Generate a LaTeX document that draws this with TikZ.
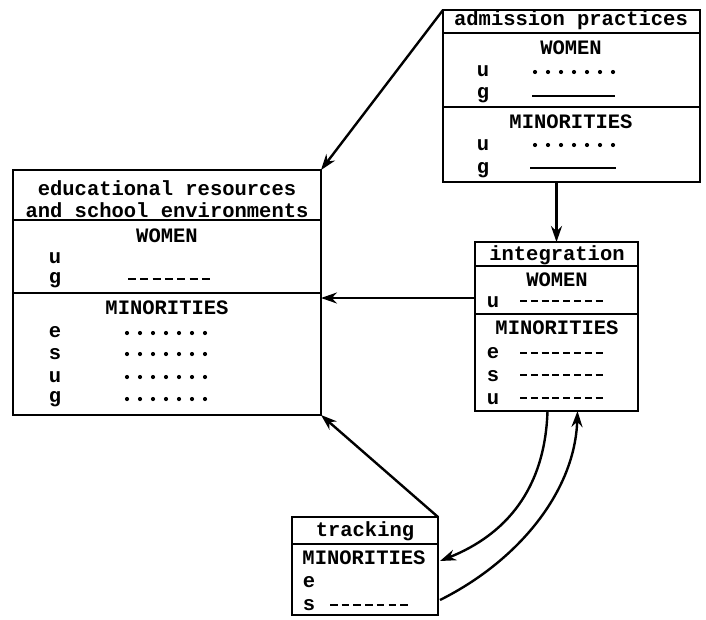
\documentclass[tikz,border=0pt]{standalone}
\usepackage{fontspec}
\setmainfont{Liberation Mono}
\usetikzlibrary{arrows.meta,calc}
\begin{document}
\begin{tikzpicture}[x=1pt,y=-1pt,
  box/.style={draw, line width=1.5pt, inner sep=0pt, outer sep=0pt, rectangle},
  txt/.style={font=\fontsize{20.5}{23}\selectfont\bfseries, inner sep=0pt, anchor=center},
  sep/.style={line width=1.5pt},
  arr/.style={line width=2.4pt, -{Stealth[length=16pt,width=11pt]}},
  dashrow/.style={line width=2.6pt, dash pattern=on 7pt off 3.8pt},
  solidrow/.style={line width=1.8pt}]
\useasboundingbox[fill=white] (0,0) rectangle (706,619);
\newcommand{\dotline}[3]{\foreach \k in {0,...,6} {\fill ({#1+13*\k},#3) circle[radius=2.1pt];}}

% ---------- boxes ----------
\node[box, minimum width=257pt, minimum height=172pt] (adm) at (571.5,96) {};
\node[box, minimum width=308pt, minimum height=245pt] (edu) at (167,292.5) {};
\node[box, minimum width=163pt, minimum height=169pt] (integ) at (556.5,326.5) {};
\node[box, minimum width=146pt, minimum height=98pt] (track) at (365,566) {};

% ---------- admission practices ----------
\draw[sep] (adm.west |- 0,33) -- (adm.east |- 0,33);
\draw[sep] (adm.west |- 0,107) -- (adm.east |- 0,107);
\node[txt] (admT) at (571,20) {admission practices};
\node[txt] (admW) at (571,48) {WOMEN};
\node[txt] (admWu) at (483,71) {u};
\node[txt] (admWg) at (483,95) {g};
\dotline{535}{}{72}
\draw[solidrow] (532,96) -- (615,96);
\node[txt] (admM) at (571,122) {MINORITIES};
\node[txt] (admMu) at (483,145) {u};
\node[txt] (admMg) at (483,170) {g};
\dotline{535}{}{145}
\draw[solidrow] (530,168) -- (616,168);

% ---------- educational resources ----------
\draw[sep] (edu.west |- 0,220) -- (edu.east |- 0,220);
\draw[sep] (edu.west |- 0,293) -- (edu.east |- 0,293);
\node[txt] (eduT1) at (167,188) {educational resources};
\node[txt] (eduT2) at (167,210) {and school environments};
\node[txt] (eduW) at (167,236) {WOMEN};
\node[txt] (eduWu) at (55,258) {u};
\node[txt] (eduWg) at (55,280) {g};
\draw[line width=2.6pt, dash pattern=on 8pt off 4.3pt] (128,279) -- (213,279);
\node[txt] (eduM) at (167,308) {MINORITIES};
\node[txt] (eduMe) at (55,332) {e};
\node[txt] (eduMs) at (55,354) {s};
\node[txt] (eduMu) at (55,377) {u};
\node[txt] (eduMg) at (55,399) {g};
\dotline{127}{}{333}
\dotline{127}{}{354}
\dotline{127}{}{377}
\dotline{127}{}{399}

% ---------- integration ----------
\draw[sep] (integ.west |- 0,266) -- (integ.east |- 0,266);
\draw[sep] (integ.west |- 0,314) -- (integ.east |- 0,314);
\node[txt] (intT) at (557,255) {integration};
\node[txt] (intW) at (557,280) {WOMEN};
\node[txt] (intWu) at (493,302) {u};
\draw[dashrow] (520,301) -- (604,301);
\node[txt] (intM) at (557,328) {MINORITIES};
\node[txt] (intMe) at (493,353) {e};
\node[txt] (intMs) at (493,376) {s};
\node[txt] (intMu) at (493,399) {u};
\draw[dashrow] (520,353) -- (604,353);
\draw[dashrow] (520,375) -- (604,375);
\draw[dashrow] (520,398) -- (604,398);

% ---------- tracking ----------
\draw[sep] (track.west |- 0,544) -- (track.east |- 0,544);
\node[txt] (trT) at (365,531) {tracking};
\node[txt] (trM) at (364,558) {MINORITIES};
\node[txt] (trMe) at (309,582) {e};
\node[txt] (trMs) at (309,605) {s};
\draw[line width=2.6pt, dash pattern=on 7.5pt off 4.2pt] (330,605) -- (411,605);

% ---------- connectors ----------
\draw[arr] (adm.north west) -- (edu.north east);
\draw[arr, line width=3.5pt] (integ.north |- adm.south) -- (integ.north);
\draw[arr] (integ.west |- 0,298) -- (edu.east |- 0,298);
\draw[arr] (track.north east) -- (edu.south east);
\coordinate (c1s) at ([xshift=-9pt]integ.south);
\coordinate (c1e) at ([yshift=5pt,xshift=2pt]track.east);
\draw[arr] (c1s) .. controls (545,490) and (505,535) .. (c1e);
\coordinate (c2s) at ([yshift=-34pt,xshift=2pt]track.east);
\coordinate (c2e) at ([xshift=21pt]integ.south);
\draw[arr] (c2s) .. controls (520,560) and (575,490) .. (c2e);
\end{tikzpicture}
\end{document}
